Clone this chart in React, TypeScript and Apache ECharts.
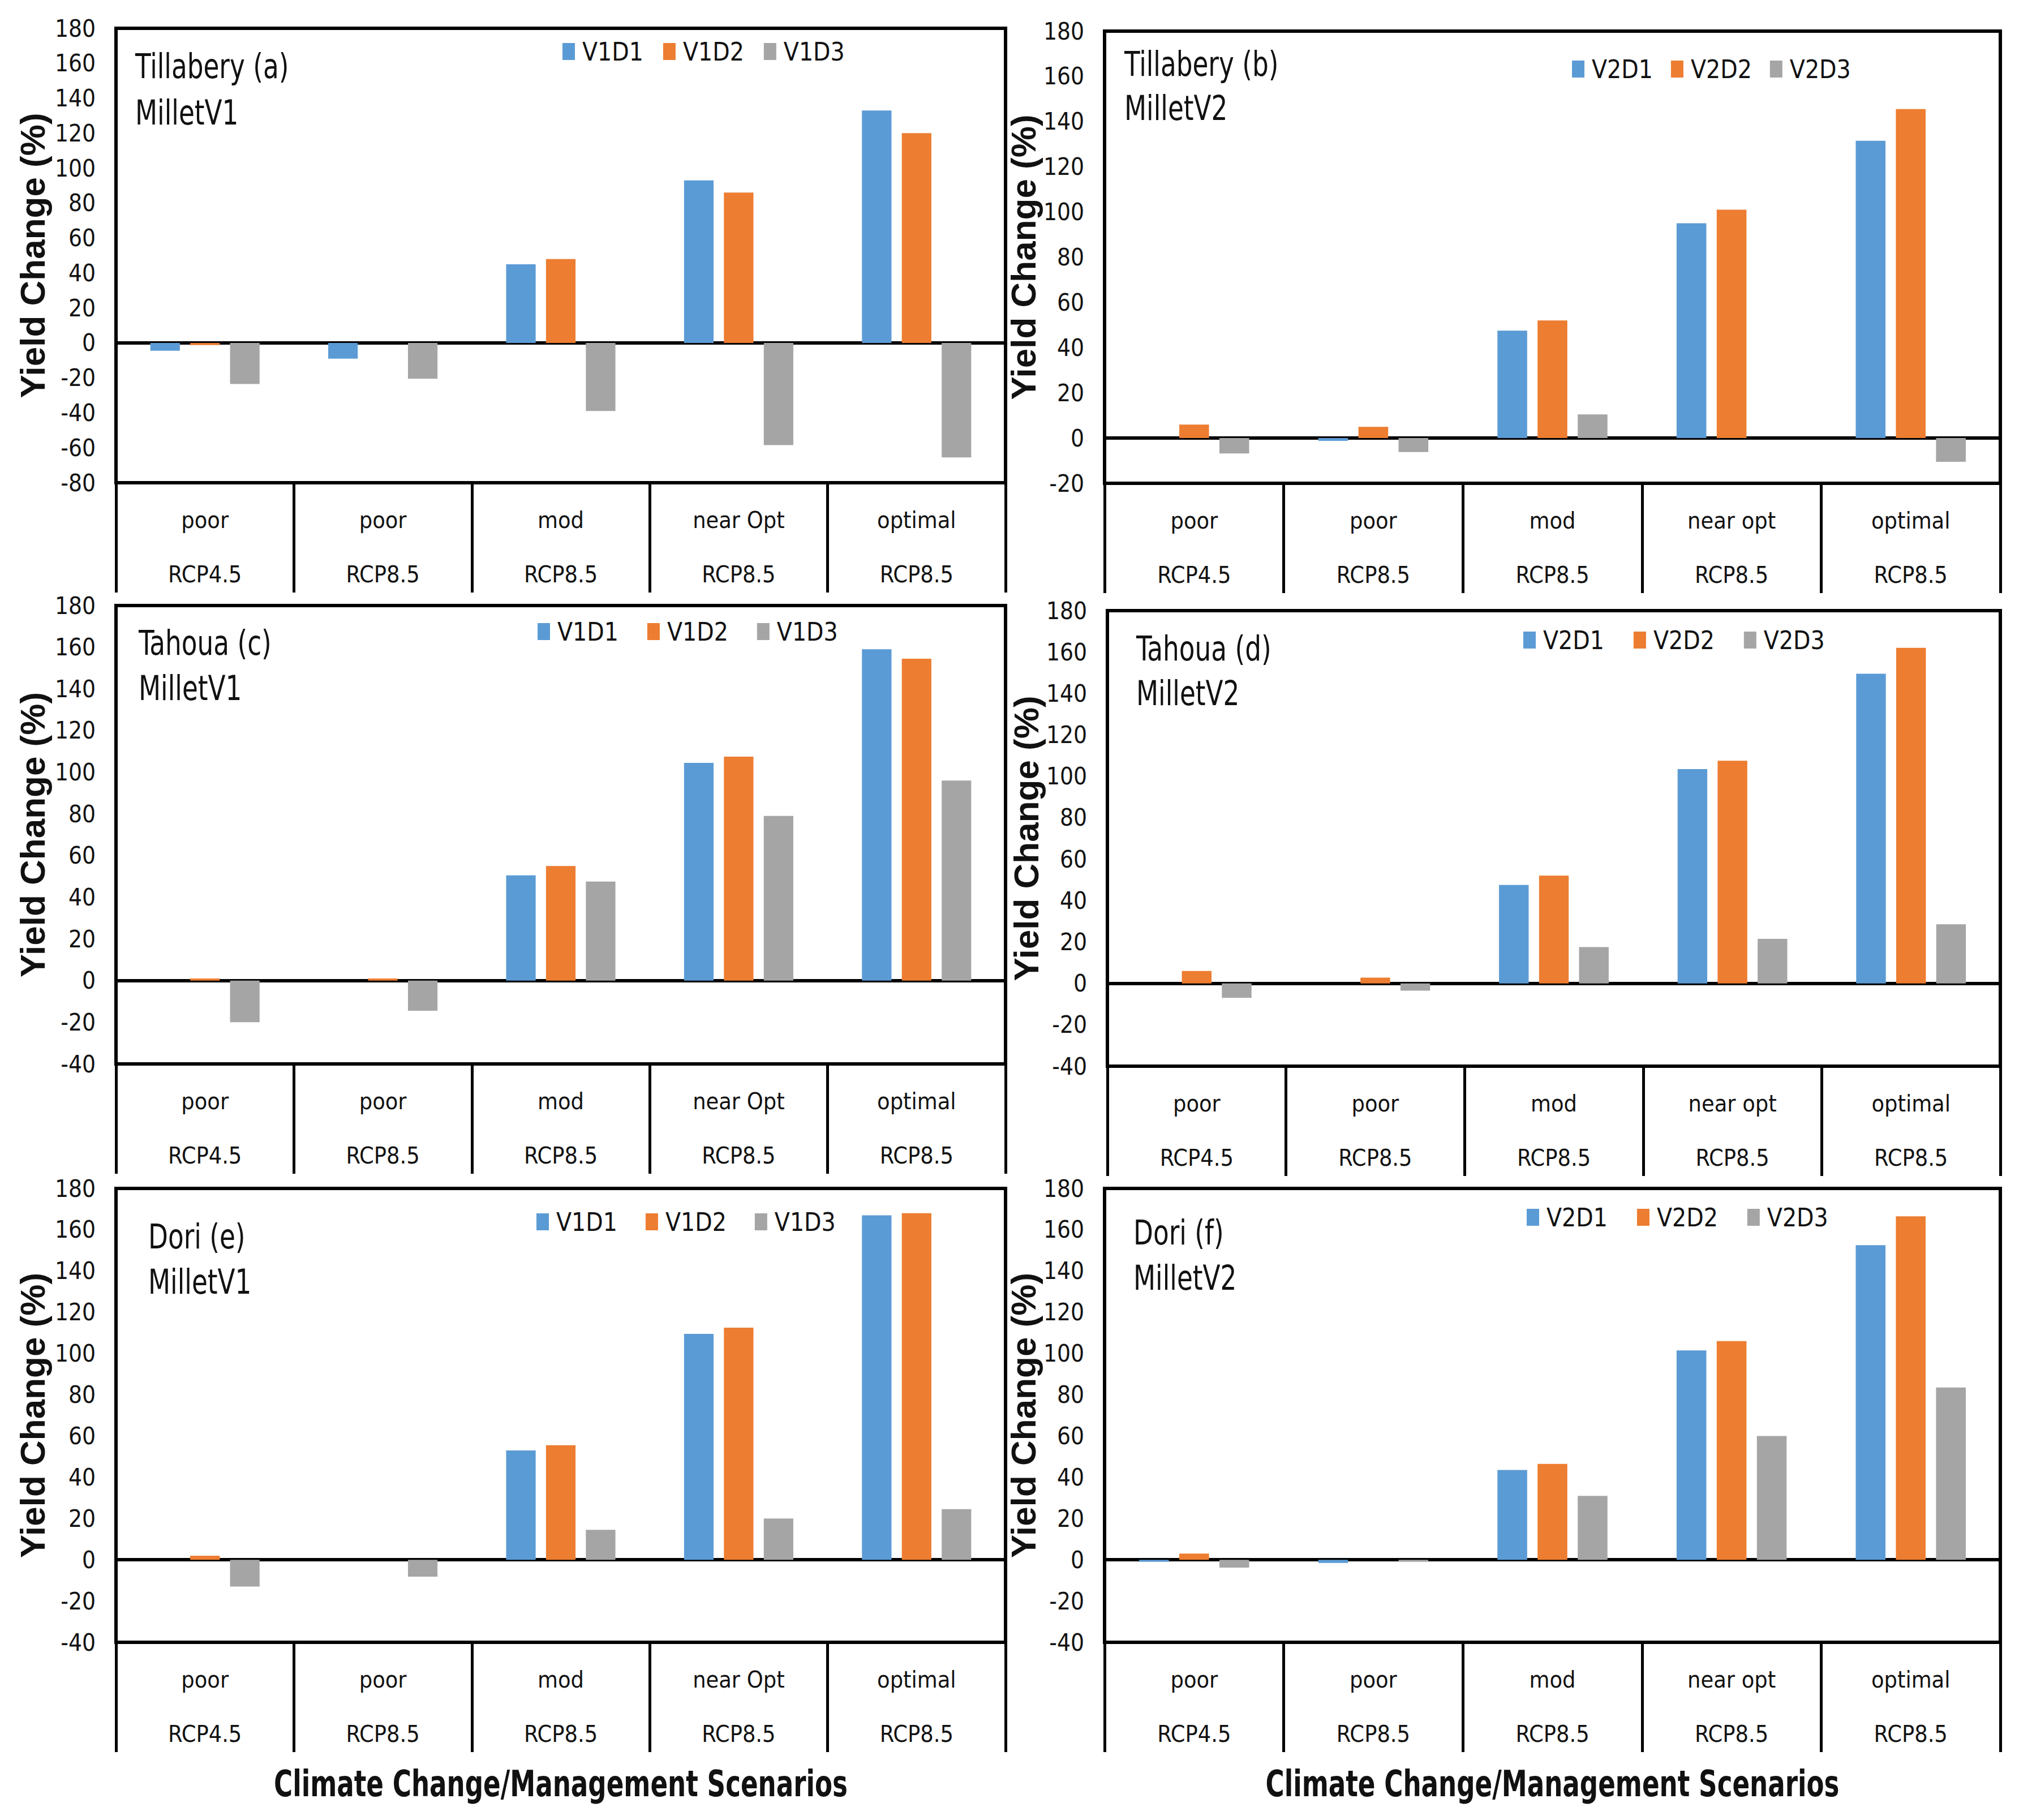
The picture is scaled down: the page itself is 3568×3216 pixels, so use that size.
import React, { useEffect, useRef } from "react";
import * as echarts from "echarts";

// ---------- data ----------
const mgmtV1 = ["poor", "poor", "mod", "near Opt", "optimal"];
const mgmtV2 = ["poor", "poor", "mod", "near opt", "optimal"];
const rcp = ["RCP4.5", "RCP8.5", "RCP8.5", "RCP8.5", "RCP8.5"];

const namesV1 = ["V1D1", "V1D2", "V1D3"];
const namesV2 = ["V2D1", "V2D2", "V2D3"];

const yMax = 180;
const yInterval = 20;
const yMinA = -80;
const yMinB = -20;
const yMinC = -40;
const yMinD = -40;
const yMinE = -40;
const yMinF = -40;

// Tillabery (a) MilletV1
const a_V1D1 = [-4.5, -9, 45, 93, 133];
const a_V1D2 = [-1.2, 0, 48, 86, 120];
const a_V1D3 = [-23.5, -20.5, -39, -58.5, -65.5];
// Tillabery (b) MilletV2
const b_V2D1 = [0, -1.2, 47.5, 95, 131.5];
const b_V2D2 = [6, 5, 52, 101, 145.5];
const b_V2D3 = [-6.8, -6.2, 10.5, 0, -10.5];
// Tahoua (c) MilletV1
const c_V1D1 = [0, 0, 50.5, 104.5, 159];
const c_V1D2 = [1, 1, 55, 107.5, 154.5];
const c_V1D3 = [-20, -14.5, 47.5, 79, 96];
// Tahoua (d) MilletV2
const d_V2D1 = [0, 0, 47.5, 103.5, 149.5];
const d_V2D2 = [6, 2.8, 52, 107.5, 162];
const d_V2D3 = [-7, -3.5, 17.5, 21.5, 28.5];
// Dori (e) MilletV1
const e_V1D1 = [0, 0, 53, 109.5, 167];
const e_V1D2 = [2, 0, 55.5, 112.5, 168];
const e_V1D3 = [-13, -8.2, 14.5, 20, 24.5];
// Dori (f) MilletV2
const f_V2D1 = [-1, -1.5, 43.5, 101.5, 152.5];
const f_V2D2 = [3, 0, 46.5, 106, 166.5];
const f_V2D3 = [-3.8, -1, 31, 60, 83.5];

const colors = ["#5B9BD5", "#ED7D31", "#A5A5A5"];

const panelData = [
  { site: "Tillabery (a)", variety: "MilletV1", names: namesV1, mgmt: mgmtV1, min: yMinA, values: [a_V1D1, a_V1D2, a_V1D3] },
  { site: "Tillabery (b)", variety: "MilletV2", names: namesV2, mgmt: mgmtV2, min: yMinB, values: [b_V2D1, b_V2D2, b_V2D3] },
  { site: "Tahoua (c)", variety: "MilletV1", names: namesV1, mgmt: mgmtV1, min: yMinC, values: [c_V1D1, c_V1D2, c_V1D3] },
  { site: "Tahoua (d)", variety: "MilletV2", names: namesV2, mgmt: mgmtV2, min: yMinD, values: [d_V2D1, d_V2D2, d_V2D3] },
  { site: "Dori (e)", variety: "MilletV1", names: namesV1, mgmt: mgmtV1, min: yMinE, values: [e_V1D1, e_V1D2, e_V1D3] },
  { site: "Dori (f)", variety: "MilletV2", names: namesV2, mgmt: mgmtV2, min: yMinF, values: [f_V2D1, f_V2D2, f_V2D3] },
];

const xTitle = "Climate Change/Management Scenarios";
const yTitle = "Yield Change (%)";

// ---------- layout ----------
const W = 3568;
const H = 3216;
const layouts = [
  { grid: { left: 205, top: 50, width: 1572, height: 803 }, legend: { left: 994, top: 66, gap: 35 }, title: { x: 239, y1: 117, y2: 199 }, nameGap: 117 },
  { grid: { left: 1952, top: 55, width: 1583, height: 799 }, legend: { left: 2778, top: 97, gap: 32 }, title: { x: 1987, y1: 113, y2: 191 }, nameGap: 108 },
  { grid: { left: 205, top: 1070, width: 1572, height: 810 }, legend: { left: 950, top: 1091, gap: 51 }, title: { x: 245, y1: 1136, y2: 1216 }, nameGap: 117 },
  { grid: { left: 1957, top: 1079, width: 1578, height: 805 }, legend: { left: 2692, top: 1106, gap: 52 }, title: { x: 2008, y1: 1146, y2: 1225 }, nameGap: 113 },
  { grid: { left: 205, top: 2100, width: 1572, height: 802 }, legend: { left: 948, top: 2134, gap: 50 }, title: { x: 262, y1: 2185, y2: 2265 }, nameGap: 117 },
  { grid: { left: 1952, top: 2100, width: 1583, height: 802 }, legend: { left: 2698, top: 2126, gap: 52 }, title: { x: 2003, y1: 2178, y2: 2258 }, nameGap: 108 },
];
const catAreaHeight = 194;
const xTitleY = 3152;

const NARROW = "'Liberation Sans Narrow', 'Arial Narrow', 'DejaVu Sans Condensed', 'Liberation Sans', sans-serif";
const WIDE = "'Liberation Sans', Arial, sans-serif";
const INK = "#111111";

function buildOption() {
  const grid: any[] = [];
  const xAxis: any[] = [];
  const yAxis: any[] = [];
  const series: any[] = [];
  const legend: any[] = [];
  const graphic: any[] = [];

  panelData.forEach((p, i) => {
    const L = layouts[i];
    const labels = p.mgmt.map((m, k) => m + "\n" + rcp[k]);
    grid.push({ ...L.grid, show: true, borderColor: "#000", borderWidth: 6, containLabel: false });
    // bar axis (zero line)
    xAxis.push({
      type: "category",
      gridIndex: i,
      data: labels,
      position: "bottom",
      axisLine: { show: true, onZero: true, lineStyle: { color: "#000", width: 6 } },
      axisTick: { show: false },
      axisLabel: { show: false },
      splitLine: { show: false },
    });
    // label axis (category separators)
    xAxis.push({
      type: "category",
      gridIndex: i,
      data: labels,
      position: "bottom",
      axisLine: { show: false, onZero: false },
      axisTick: { show: true, interval: 0, length: catAreaHeight, lineStyle: { color: "#000", width: 5 } },
      axisLabel: { show: true, interval: 0, margin: 18, fontSize: 41, lineHeight: 96, color: INK, fontFamily: NARROW },
      splitLine: { show: false },
    });
    yAxis.push({
      type: "value",
      gridIndex: i,
      min: p.min,
      max: yMax,
      interval: yInterval,
      axisLine: { show: false },
      axisTick: { show: false },
      splitLine: { show: false },
      axisLabel: { fontSize: 42, color: INK, fontFamily: NARROW, margin: 36 },
      name: yTitle,
      nameLocation: "middle",
      nameGap: L.nameGap,
      nameTextStyle: { fontSize: 62, fontWeight: "bold", fontFamily: WIDE, color: INK },
    });
    p.names.forEach((n, s) => {
      series.push({
        type: "bar",
        name: n,
        xAxisIndex: i * 2,
        yAxisIndex: i,
        data: p.values[s],
        barWidth: "16.6%",
        barGap: "35%",
        itemStyle: { color: colors[s] },
      });
    });
    legend.push({
      left: L.legend.left,
      top: L.legend.top,
      orient: "horizontal",
      padding: 0,
      itemWidth: 22,
      itemHeight: 30,
      itemGap: L.legend.gap,
      icon: "rect",
      data: p.names,
      selectedMode: false,
      textStyle: { fontSize: 44, lineHeight: 50, fontFamily: NARROW, color: INK, padding: [0, 0, 0, 8] },
    });
    graphic.push({
      type: "text",
      x: L.title.x,
      y: L.title.y1,
      scaleX: 0.84,
      style: { text: p.site, fontSize: 60, fontFamily: NARROW, fill: INK, align: "left", verticalAlign: "middle" },
    });
    graphic.push({
      type: "text",
      x: L.title.x,
      y: L.title.y2,
      scaleX: 0.84,
      style: { text: p.variety, fontSize: 60, fontFamily: NARROW, fill: INK, align: "left", verticalAlign: "middle" },
    });
  });

  [0, 1].forEach((c) => {
    const g = layouts[c].grid;
    graphic.push({
      type: "text",
      x: g.left + g.width / 2,
      y: xTitleY,
      scaleX: 0.785,
      style: { text: xTitle, fontSize: 64, fontWeight: "bold", fontFamily: NARROW, fill: INK, align: "center", verticalAlign: "middle" },
    });
  });

  return {
    animation: false,
    backgroundColor: "#ffffff",
    grid,
    xAxis,
    yAxis,
    series,
    legend,
    graphic,
  };
}

export default function App() {
  const ref = useRef<HTMLDivElement>(null);
  useEffect(() => {
    document.body.style.margin = "0";
    if (!ref.current) return;
    const chart = echarts.init(ref.current, undefined, { renderer: "svg" });
    chart.setOption(buildOption() as any);
    return () => chart.dispose();
  }, []);
  return <div ref={ref} style={{ width: W, height: H, background: "#fff" }} />;
}
